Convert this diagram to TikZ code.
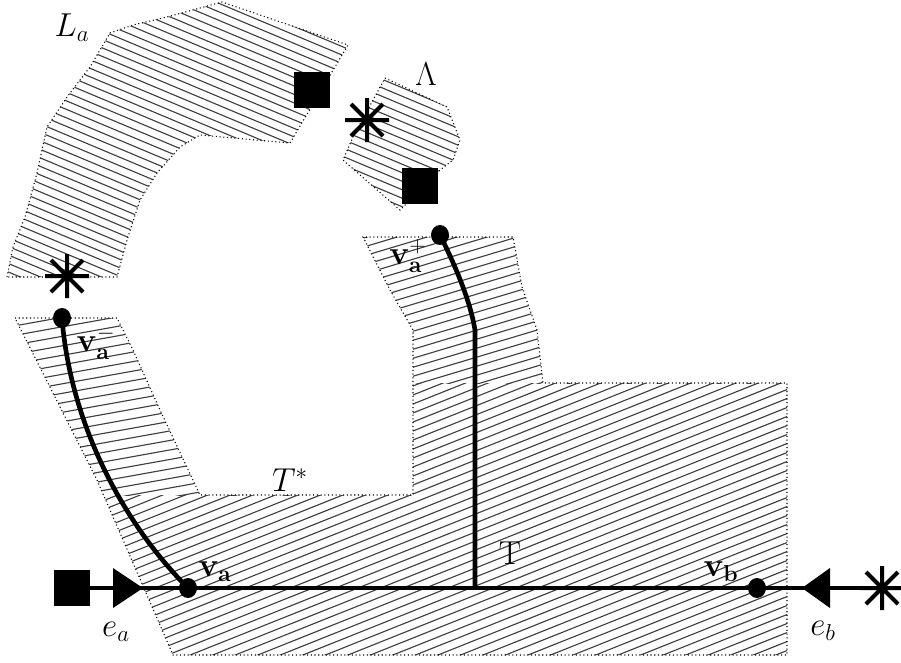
\documentclass[tikz,border=0pt]{standalone}
\usetikzlibrary{shapes.geometric}
\begin{document}
\begin{tikzpicture}[x=0.75pt,y=-0.75pt,
  hatch/.style={line width=0.85pt, black!75},
  bound/.style={line width=0.8pt, dotted},
  edge/.style={line width=3.5pt},
  dot/.style={ellipse, fill=black, minimum width=13.5pt, minimum height=15pt, inner sep=0},
  sq/.style={rectangle, fill=black, minimum size=27pt, inner sep=0},
  lab/.style={inner sep=0, font=\fontsize{23}{28}\selectfont},
  aster/.pic={\draw[line width=3pt] (-22,0)--(22,0) (0,-22)--(0,22) (-16,-16)--(16,16) (-16,16)--(16,-16);}
]
\useasboundingbox (0,0) rectangle (901,662);

% ---------- L_a region ----------
\def\Lpoly{(7,277) -- (13,247) -- (25,217) -- (37,173) -- (47,127) -- (67,97) -- (90,67) -- (110,33) -- (133,25) -- (167,17) -- (222,2) -- (348,45) -- (290,143) -- (200,135) -- (180,147) -- (157,173) -- (140,200) -- (127,240) -- (117,277) -- cycle}
\begin{scope}
  \clip \Lpoly;
  \foreach \c in {-420,-411.5,...,300} \draw[hatch] (0,\c) -- (901,{\c+378});
\end{scope}
\draw[bound] \Lpoly;

% ---------- Lambda region ----------
\def\Mpoly{(385,78) -- (447,107) -- (460,140) -- (453,160) -- (440,170) -- (400,210) -- (343,160) -- (353,137) -- (373,100) -- cycle}
\begin{scope}
  \clip \Mpoly;
  \foreach \c in {-200,-191.5,...,250} \draw[hatch] (0,\c) -- (901,{\c+378});
\end{scope}
\draw[bound] \Mpoly;

% ---------- T* region ----------
\def\Tpoly{(15,318) -- (117,318) -- (133,350) -- (160,410) -- (200,495) -- (413,495) -- (413,330) -- (390,290) -- (363,237) -- (513,237) -- (522,287) -- (537,330) -- (543,383) -- (787,383) -- (787,655) -- (173,655) -- (97,480) -- cycle}
\begin{scope}
  \clip \Tpoly;
  \clip (0,0) rectangle (300,495);
  \foreach \c in {300,309.5,...,720} \draw[hatch] (0,\c) -- (901,{\c-162});
\end{scope}
\begin{scope}
  \clip \Tpoly;
  \clip (300,0) rectangle (901,383);
  \foreach \c in {230,239,...,700} \draw[hatch] (0,\c) -- (901,{\c-270});
\end{scope}
\begin{scope}
  \clip \Tpoly;
  \clip (0,495) -- (300,495) -- (300,383) -- (901,383) -- (901,662) -- (0,662) -- cycle;
  \foreach \c in {380,389,...,1110} \draw[hatch] (0,\c) -- (901,{\c-360});
\end{scope}
\draw[bound] \Tpoly;

% ---------- nodes ----------
\node[sq] (sqa) at (72,588) {};
\node[sq] (sqL) at (312,90) {};
\node[sq] (sqM) at (420,186) {};
\coordinate (stb) at (882,588);
\coordinate (stL) at (67,276);
\coordinate (stM) at (367,120);
\coordinate (j) at (475,588);
\coordinate (k) at (475,330);
\coordinate (pva) at (188,588);
\coordinate (pvb) at (757,588);
\coordinate (pvap) at (440,235);
\coordinate (pvam) at (62,318);

% ---------- edges ----------
\draw[edge] (sqa.center) -- (stb);
\draw[edge] (j) -- (k) .. controls (470,300) and (455,265) .. (pvap);
\draw[edge] (pva) .. controls (120,520) and (70,420) .. (pvam);
\node[dot] (va) at (pva) {};
\node[dot] (vb) at (pvb) {};
\node[dot] (vap) at (pvap) {};
\node[dot] (vam) at (pvam) {};

% arrow triangles
\fill (113,568) -- (143,588) -- (113,608) -- cycle;
\fill (830,568) -- (802,588) -- (830,608) -- cycle;

% asterisks
\pic at (stb) {aster};
\pic at (stL) {aster};
\pic at (stM) {aster};

% ---------- labels ----------
\node[lab] (lLa) at (72,28) {$L_a$};
\node[lab] (lLam) at (426,74) {$\Lambda$};
\node[lab] (lTs) at (290,480) {$T^*$};
\node[lab] (lT) at (510,553) {$\mathrm{T}$};
\node[lab] (lva) at (215,572) {$\mathbf{v}_\mathbf{a}$};
\node[lab] (lvb) at (721,572) {$\mathbf{v}_\mathbf{b}$};
\node[lab] (lvap) at (408,256) {$\mathbf{v}_\mathbf{a}^+$};
\node[lab] (lvam) at (96,343) {$\mathbf{v}_\mathbf{a}^-$};
\node[lab] (lea) at (116,632) {$e_a$};
\node[lab] (leb) at (823,631) {$e_b$};
\end{tikzpicture}
\end{document}
